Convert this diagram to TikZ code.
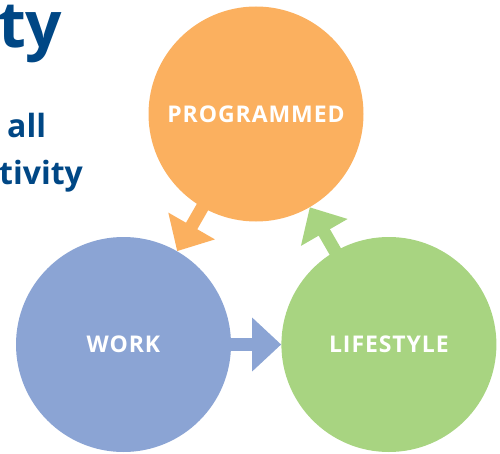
\documentclass[tikz,border=0pt]{standalone}
\usepackage{fontspec}
\setmainfont{Open Sans}
\newfontfamily\labelfont[LetterSpace=4]{Open Sans}
\usetikzlibrary{positioning,arrows.meta}
\definecolor{progorange}{RGB}{251,176,95}
\definecolor{workblue}{RGB}{139,164,212}
\definecolor{lifegreen}{RGB}{168,212,129}
\definecolor{headblue}{RGB}{0,71,133}
\tikzset{
x=1pt, y=1pt,
node distance=50pt, % gap between the two lower circles
stagecircle/.style={circle, inner sep=0pt, minimum size=215pt, text=white,
  font=\labelfont\bfseries\fontsize{23}{23}\selectfont}, % the three big discs
flowarrow/.style={-{Triangle[width=52pt,length=29pt]}, line width=13pt, shorten <=-4pt}, % fat arrows between discs
heading/.style={text=headblue, inner sep=0pt, anchor=base west}, % cut-off slide text
}

\begin{document}
\begin{tikzpicture}
        \useasboundingbox (0,0) rectangle (500,453);
        \clip (0,0) rectangle (500,453);

        % slide text, cut by the picture's edges
        \node[heading, font=\bfseries\fontsize{64}{64}\selectfont] (ty) at (-2,405) {ty};
        \node[heading, font=\bfseries\fontsize{32}{32}\selectfont] (all) at (7,315) {all};
        \node[heading, font=\bfseries\fontsize{32}{32}\selectfont] (tivity) at (-1,268) {tivity};

        \node[stagecircle, fill=workblue] (work) at (123.5,108.5) {WORK};
        \node[stagecircle, fill=lifegreen, right=of work] (life) {LIFESTYLE};
        \node[stagecircle, fill=progorange] (prog) at (256,339) {PROGRAMMED};

        \draw[flowarrow, progorange] (prog) -- (work);
        \draw[flowarrow, workblue] (work) -- (life);
        \draw[flowarrow, lifegreen] (life) -- (prog);
\end{tikzpicture}
\end{document}
